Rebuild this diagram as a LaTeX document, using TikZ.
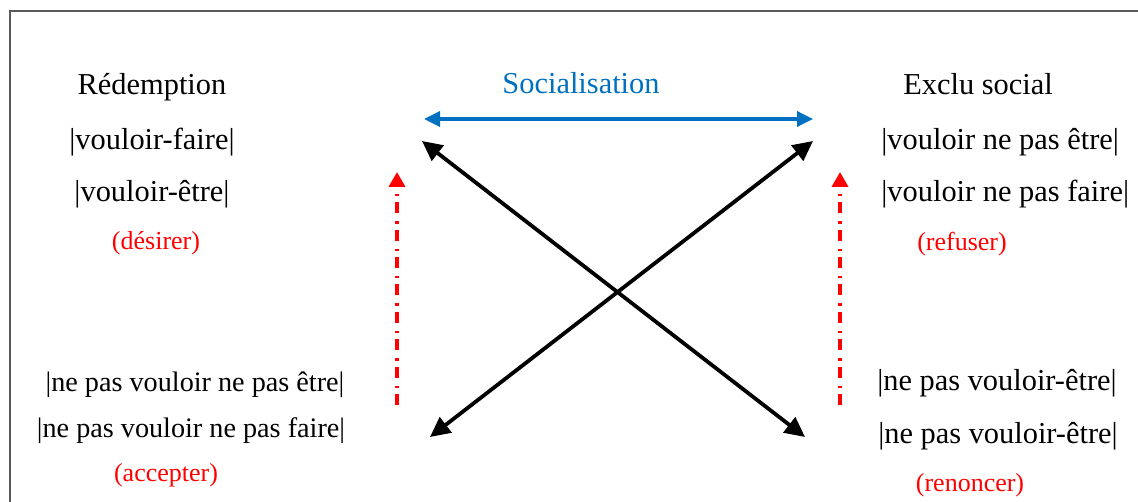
\documentclass[tikz,border=0pt]{standalone}
\usepackage{fontspec}
\setmainfont{Liberation Serif}
\usetikzlibrary{arrows.meta}
\definecolor{socblue}{RGB}{0,112,192}
\definecolor{lblred}{RGB}{255,0,0}
\definecolor{framegray}{RGB}{90,90,90}
\begin{document}
\begin{tikzpicture}[x=0.5pt,y=-0.5pt,
  txt/.style={anchor=base,inner sep=0pt,font=\fontsize{15.2pt}{18pt}\selectfont},
  txtsm/.style={anchor=base,inner sep=0pt,font=\fontsize{14.1pt}{17pt}\selectfont},
  lbl/.style={anchor=base,inner sep=0pt,text=lblred,font=\fontsize{13pt}{16pt}\selectfont},
  soc/.style={anchor=base,inner sep=0pt,text=socblue,font=\fontsize{15.2pt}{18pt}\selectfont},
  cross/.style={line width=1.9pt,black,{Triangle[length=10pt,width=9.5pt]}-{Triangle[length=10pt,width=9.5pt]}},
  socarrow/.style={line width=1.7pt,socblue,{Triangle[length=8pt,width=7.5pt]}-{Triangle[length=8pt,width=7.5pt]}},
  redarrow/.style={line width=1.8pt,lblred,dash pattern=on 5.5pt off 3pt on 1.2pt off 4pt,-{Triangle[length=7.5pt,width=8pt]}}
]
\useasboundingbox (0,0) rectangle (1138,502);
\clip (0,0) rectangle (1138,502);
\draw[framegray,line width=0.8pt] (10,520) -- (10,11) -- (1150,11);

% left column
\node[txt] (red) at (152,95) {Rédemption};
\node[txt] (vf) at (152,150) {|vouloir-faire|};
\node[txt] (ve) at (152,201) {|vouloir-être|};
\node[lbl] (des) at (156,249) {(désirer)};

% centre title
\node[soc] (soc) at (581,94) {Socialisation};

% right column
\node[txt] (exc) at (978,95) {Exclu social};
\node[txt,anchor=base west] (vnpe) at (881,150) {|vouloir ne pas être|};
\node[txt,anchor=base west] (vnpf) at (881,201) {|vouloir ne pas faire|};
\node[lbl] (ref) at (962,250) {(refuser)};

% bottom left
\node[txtsm] (npvnpe) at (195,391) {|ne pas vouloir ne pas être|};
\node[txtsm] (npvnpf) at (191,437) {|ne pas vouloir ne pas faire|};
\node[lbl] (acc) at (166,481) {(accepter)};

% bottom right
\node[txt] (npve1) at (997,390) {|ne pas vouloir-être|};
\node[txt] (npve2) at (998,443) {|ne pas vouloir-être|};
\node[lbl] (ren) at (970,491) {(renoncer)};

% arrow end points
\coordinate (socL) at (424,119);
\coordinate (socR) at (813,119);
\coordinate (tl) at (422,141);
\coordinate (tr) at (813,141);
\coordinate (bl) at (430,437);
\coordinate (br) at (805,437);
\coordinate (rlB) at (397,405);
\coordinate (rlT) at (397,172);
\coordinate (rrB) at (840,405);
\coordinate (rrT) at (840,172);

\draw[socarrow] (socL) -- (socR);
\draw[cross] (tl) -- (br);
\draw[cross] (bl) -- (tr);
\draw[redarrow] (rlB) -- (rlT);
\draw[redarrow] (rrB) -- (rrT);
\end{tikzpicture}
\end{document}
